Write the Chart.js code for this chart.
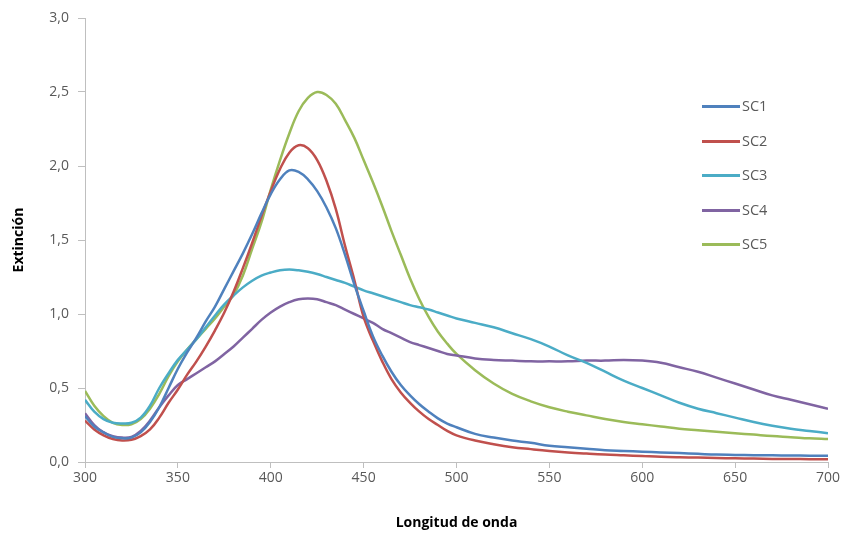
<!DOCTYPE html>
<html>
<head>
<meta charset="utf-8">
<script src="https://cdn.jsdelivr.net/npm/chart.js@4.4.1/dist/chart.umd.min.js"></script>
<style>
  html, body { margin: 0; padding: 0; background: #fff; }
  #wrap { position: relative; width: 847px; height: 537px; }
  #legend { position: absolute; left: 702px; top: 96px; font-family: 'Open Sans', sans-serif; font-size: 14.5px; color: #595959; }
  .lg-row { position: relative; height: 34.6px; }
  .lg-line { position: absolute; left: 0; top: 9px; width: 38px; height: 3px; }
  .lg-text { position: absolute; left: 40px; top: 0; line-height: 20px; }
</style>
</head>
<body>
<div id="wrap">
  <canvas id="chart" width="847" height="537"></canvas>
  <div id="legend"></div>
</div>
<script>
// longitud de onda (nm)
const WAVELENGTHS = [300,305,310,315,320,325,330,335,340,345,350,355,360,365,370,375,380,385,390,395,
                     400,405,410,415,420,425,430,435,440,445,450,455,460,465,470,475,480,485,490,495,
                     500,510,520,530,540,550,560,570,580,590,600,610,620,630,640,650,660,670,680,690,700];

const SC1 = [0.31,0.24,0.20,0.17,0.16,0.165,0.20,0.27,0.37,0.50,0.63,0.74,0.84,0.95,1.05,1.17,1.29,1.41,1.54,1.68,
             1.81,1.91,1.97,1.96,1.91,1.83,1.72,1.58,1.40,1.20,1.02,0.85,0.72,0.61,0.52,0.45,0.39,0.34,0.295,0.26,
             0.235,0.19,0.165,0.145,0.13,0.11,0.10,0.09,0.08,0.075,0.07,0.065,0.06,0.055,0.05,0.048,0.046,0.045,0.044,0.043,0.042];

const SC2 = [0.28,0.22,0.18,0.155,0.145,0.15,0.175,0.22,0.30,0.40,0.49,0.59,0.68,0.78,0.89,1.01,1.15,1.31,1.48,1.66,
             1.83,1.98,2.09,2.14,2.12,2.04,1.90,1.71,1.46,1.23,0.98,0.82,0.68,0.56,0.47,0.40,0.34,0.29,0.25,0.21,
             0.18,0.145,0.12,0.10,0.087,0.075,0.065,0.057,0.05,0.045,0.04,0.035,0.032,0.03,0.027,0.025,0.023,0.021,0.02,0.019,0.018];

const SC3 = [0.42,0.34,0.29,0.265,0.26,0.265,0.30,0.38,0.50,0.60,0.69,0.76,0.83,0.91,0.99,1.065,1.125,1.18,1.225,1.26,
             1.28,1.295,1.30,1.295,1.285,1.27,1.25,1.23,1.21,1.185,1.16,1.14,1.12,1.10,1.08,1.06,1.045,1.03,1.01,0.99,
             0.97,0.94,0.91,0.87,0.83,0.78,0.72,0.67,0.61,0.55,0.50,0.45,0.40,0.36,0.33,0.30,0.27,0.245,0.225,0.21,0.195];

const SC4 = [0.33,0.25,0.20,0.175,0.165,0.17,0.21,0.28,0.37,0.45,0.52,0.56,0.60,0.64,0.68,0.73,0.78,0.84,0.90,0.96,
             1.01,1.05,1.08,1.10,1.105,1.10,1.08,1.06,1.03,1.00,0.97,0.94,0.90,0.87,0.84,0.81,0.79,0.77,0.75,0.73,
             0.72,0.70,0.69,0.685,0.68,0.68,0.68,0.685,0.685,0.69,0.685,0.67,0.64,0.61,0.57,0.53,0.49,0.45,0.42,0.39,0.36];

const SC5 = [0.48,0.38,0.31,0.265,0.25,0.255,0.29,0.36,0.46,0.58,0.68,0.76,0.83,0.90,0.97,1.05,1.13,1.26,1.44,1.62,
             1.84,2.04,2.22,2.37,2.46,2.50,2.48,2.42,2.31,2.19,2.04,1.89,1.73,1.56,1.40,1.24,1.10,0.98,0.88,0.80,
             0.73,0.62,0.53,0.46,0.41,0.37,0.34,0.315,0.29,0.27,0.255,0.24,0.225,0.215,0.205,0.195,0.185,0.175,0.168,0.16,0.155];

const SERIES_NAMES  = ['SC1','SC2','SC3','SC4','SC5'];
const SERIES_VALUES = [SC1, SC2, SC3, SC4, SC5];
const COLORS        = ['#4F81BD','#C0504D','#4BACC6','#8064A2','#9BBB59'];

const X_TITLE = 'Longitud de onda';
const Y_TITLE = 'Extinción';

const AXIS_GREY = '#bfbfbf';
const TEXT_GREY = '#595959';
const FONT = "'Open Sans', 'Liberation Sans', sans-serif";

const datasets = SERIES_NAMES.map((name, i) => ({
  label: name,
  data: WAVELENGTHS.map((w, j) => ({ x: w, y: SERIES_VALUES[i][j] })),
  borderColor: COLORS[i],
  backgroundColor: COLORS[i],
  borderWidth: 2.5,
  pointRadius: 0,
  tension: 0.4,
  fill: false
}));

new Chart(document.getElementById('chart').getContext('2d'), {
  type: 'line',
  data: { datasets },
  options: {
    responsive: false,
    animation: false,
    layout: { padding: { left: 0, right: 19, top: 18, bottom: 0 } },
    plugins: {
      legend: { display: false },
      tooltip: { enabled: false }
    },
    scales: {
      x: {
        type: 'linear',
        min: 300, max: 700,
        afterFit: s => { s.height = 75; },
        ticks: { stepSize: 50, color: TEXT_GREY, padding: 2, font: { family: FONT, size: 14 } },
        grid: { drawOnChartArea: false, drawTicks: true, tickLength: 6, color: AXIS_GREY },
        border: { color: AXIS_GREY },
        title: { display: true, text: X_TITLE, color: '#000', padding: { top: 4, bottom: 6 },
                 font: { family: FONT, size: 14, weight: 'bold' } }
      },
      y: {
        min: 0, max: 3,
        afterFit: s => { s.width = 85; },
        ticks: { stepSize: 0.5, color: TEXT_GREY, padding: 9, font: { family: FONT, size: 14 },
                 callback: v => Number(v).toFixed(1).replace('.', ',') },
        grid: { drawOnChartArea: false, drawTicks: true, tickLength: 7, color: AXIS_GREY },
        border: { color: AXIS_GREY },
        title: { display: true, text: Y_TITLE, color: '#000', padding: { top: 11, bottom: 0 },
                 font: { family: FONT, size: 14, weight: 'bold' } }
      }
    }
  }
});

// leyenda dentro del área del gráfico
const legend = document.getElementById('legend');
SERIES_NAMES.forEach((name, i) => {
  const row = document.createElement('div');
  row.className = 'lg-row';
  row.innerHTML = `<span class="lg-line" style="background:${COLORS[i]}"></span><span class="lg-text">${name}</span>`;
  legend.appendChild(row);
});
</script>
</body>
</html>
